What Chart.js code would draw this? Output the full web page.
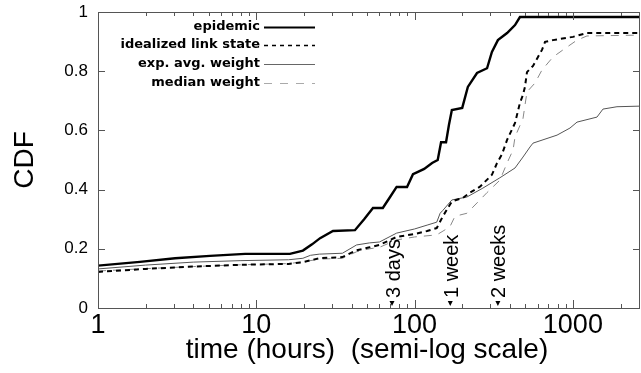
<!DOCTYPE html>
<html>
<head>
<meta charset="utf-8">
<script src="https://cdn.jsdelivr.net/npm/chart.js@4"></script>
<style>
  html, body { margin: 0; padding: 0; background: #fff; }
  #wrap { width: 641px; height: 373px; position: relative; }
</style>
</head>
<body>
<div id="wrap"><canvas id="cdfChart"></canvas></div>
<script>
// values (hours, CDF)
const epidemicHours = [1, 1.84, 3.07, 5.1, 8.5, 16.3, 19.7, 22.5, 25.3, 30.5, 42, 48, 54.6, 63, 70, 77, 89.6, 97.7, 105, 115, 129, 140, 147, 158, 165, 172, 200, 217, 248, 287, 308, 336, 384, 431, 463, 2655];
const epidemicCdf = [0.143, 0.156, 0.168, 0.176, 0.183, 0.183, 0.194, 0.215, 0.236, 0.26, 0.263, 0.3, 0.338, 0.338, 0.375, 0.409, 0.409, 0.452, 0.46, 0.47, 0.49, 0.5, 0.56, 0.56, 0.62, 0.669, 0.676, 0.747, 0.794, 0.81, 0.865, 0.905, 0.929, 0.956, 0.983, 0.983];

const idealHours = [1, 2, 4, 8, 16, 19.7, 25, 35, 43, 52, 60, 77, 100, 120, 138, 151, 172, 202, 224, 259, 308, 332, 357, 384, 431, 463, 484, 498, 513, 560, 602, 638, 667, 749, 1002, 1227, 2655];
const idealCdf = [0.122, 0.132, 0.14, 0.146, 0.149, 0.155, 0.168, 0.172, 0.195, 0.205, 0.213, 0.24, 0.25, 0.26, 0.27, 0.31, 0.36, 0.372, 0.39, 0.41, 0.45, 0.49, 0.52, 0.568, 0.625, 0.693, 0.72, 0.747, 0.797, 0.818, 0.848, 0.872, 0.899, 0.905, 0.916, 0.929, 0.929];

const expAvgHours = [1, 2, 4, 8, 16, 19.7, 22, 25, 35, 43, 52, 60, 77, 100, 120, 138, 145, 151, 172, 214, 270, 346, 431, 484, 536, 560, 794, 959, 1062, 1420, 1549, 1900, 2655];
const expAvgCdf = [0.132, 0.145, 0.155, 0.16, 0.163, 0.168, 0.178, 0.182, 0.185, 0.213, 0.22, 0.223, 0.253, 0.267, 0.28, 0.29, 0.32, 0.33, 0.365, 0.375, 0.405, 0.44, 0.473, 0.51, 0.544, 0.557, 0.584, 0.608, 0.628, 0.645, 0.672, 0.68, 0.682];

const medianHours = [1, 2, 4, 8, 16, 19.7, 25, 35, 43, 52, 60, 77, 100, 138, 167, 180, 214, 248, 287, 346, 384, 419, 431, 484, 513, 576, 638, 749, 866, 1062, 1227, 2655];
const medianCdf = [0.125, 0.133, 0.14, 0.146, 0.15, 0.156, 0.165, 0.168, 0.19, 0.2, 0.205, 0.23, 0.24, 0.247, 0.274, 0.31, 0.32, 0.355, 0.39, 0.432, 0.49, 0.534, 0.578, 0.64, 0.73, 0.76, 0.804, 0.848, 0.872, 0.905, 0.919, 0.922];

const xTickValues = [1, 10, 100, 1000];
const yTickValues = [0, 0.2, 0.4, 0.6, 0.8, 1];
const markerHours = [72, 168, 336];
const markerLabels = ["3 days", "1 week", "2 weeks"];
const seriesNames = ["epidemic", "idealized link state", "exp. avg. weight", "median weight"];

function pairs(xs, ys) {
    return xs.map((x, i) => ({ x: x, y: ys[i] }));
}

const styles = [
    { color: "#000000", width: 2.4, dash: [] },
    { color: "#000000", width: 2, dash: [5, 4] },
    { color: "#555555", width: 1, dash: [] },
    { color: "#888888", width: 1, dash: [8, 7] }
];
const legendStyles = [
    { color: "#000000", width: 2, dash: [] },
    { color: "#000000", width: 1.5, dash: [4, 4] },
    { color: "#666666", width: 1, dash: [] },
    { color: "#aaaaaa", width: 1, dash: [8, 8] }
];

const allData = [
    pairs(epidemicHours, epidemicCdf),
    pairs(idealHours, idealCdf),
    pairs(expAvgHours, expAvgCdf),
    pairs(medianHours, medianCdf)
];

const gnuplotFrame = {
    id: "gnuplotFrame",
    afterDraw(chart) {
        const ctx = chart.ctx;
        const a = chart.chartArea;
        const xs = chart.scales.x;
        const ys = chart.scales.y;
        ctx.save();
        ctx.strokeStyle = "#555555";
        ctx.lineWidth = 1;
        ctx.setLineDash([]);
        ctx.strokeRect(a.left + 0.5, a.top + 0.5, a.right - a.left - 1, a.bottom - a.top);

        // inward ticks on x (bottom and top)
        ctx.beginPath();
        for (let d = 1; d <= 1000; d *= 10) {
            for (let m = 1; m <= 9; m++) {
                const v = d * m;
                if (v > xs.max) break;
                const px = Math.round(xs.getPixelForValue(v)) + 0.5;
                const len = m === 1 ? 8 : 4;
                ctx.moveTo(px, a.bottom);
                ctx.lineTo(px, a.bottom - len);
                ctx.moveTo(px, a.top);
                ctx.lineTo(px, a.top + len);
            }
        }
        // inward ticks on y (left and right)
        yTickValues.forEach(v => {
            const py = Math.round(ys.getPixelForValue(v)) + 0.5;
            ctx.moveTo(a.left, py);
            ctx.lineTo(a.left + 7, py);
            ctx.moveTo(a.right, py);
            ctx.lineTo(a.right - 7, py);
        });
        ctx.stroke();

        // legend, text right aligned, sample line on the right
        ctx.font = "bold 13px 'DejaVu Sans'";
        ctx.textAlign = "right";
        ctx.textBaseline = "middle";
        const rows = [27, 45, 64, 83];
        seriesNames.forEach((name, i) => {
            ctx.fillStyle = "#000";
            ctx.fillText(name, 260, rows[i]);
            const st = legendStyles[i];
            ctx.strokeStyle = st.color;
            ctx.lineWidth = st.width;
            ctx.setLineDash(st.dash);
            ctx.beginPath();
            ctx.moveTo(264, rows[i] + 0.5);
            ctx.lineTo(315, rows[i] + 0.5);
            ctx.stroke();
        });
        ctx.setLineDash([]);

        // day / week markers
        ctx.fillStyle = "#000";
        ctx.font = "20px 'Liberation Sans'";
        markerHours.forEach((h, i) => {
            const px = xs.getPixelForValue(h);
            ctx.beginPath();
            ctx.moveTo(px - 2.5, a.bottom - 7);
            ctx.lineTo(px + 2.5, a.bottom - 7);
            ctx.lineTo(px, a.bottom - 2);
            ctx.closePath();
            ctx.fill();
            ctx.save();
            ctx.translate(px + 2, a.bottom - 10);
            ctx.rotate(-Math.PI / 2);
            ctx.textAlign = "left";
            ctx.textBaseline = "middle";
            ctx.fillText(markerLabels[i], 0, 0);
            ctx.restore();
        });

        // axis titles
        ctx.font = "28px 'Liberation Sans'";
        ctx.textAlign = "center";
        ctx.textBaseline = "alphabetic";
        ctx.fillText("time (hours)  (semi-log scale)", (a.left + a.right) / 2 - 2, 358);
        ctx.save();
        ctx.translate(33, 160);
        ctx.rotate(-Math.PI / 2);
        ctx.fillText("CDF", 0, 0);
        ctx.restore();
        ctx.restore();
    }
};

new Chart(document.getElementById("cdfChart"), {
    type: "line",
    data: {
        datasets: allData.map((d, i) => ({
            label: seriesNames[i],
            data: d,
            borderColor: styles[i].color,
            borderWidth: styles[i].width,
            borderDash: styles[i].dash,
            pointRadius: 0,
            tension: 0,
            fill: false
        }))
    },
    options: {
        responsive: true,
        maintainAspectRatio: false,
        animation: false,
        layout: { padding: { top: 12, right: 1, left: 0, bottom: 0 } },
        plugins: {
            legend: { display: false },
            tooltip: { enabled: false }
        },
        scales: {
            x: {
                type: "logarithmic",
                min: 1,
                max: 2655,
                afterBuildTicks: function (scale) {
                    scale.ticks = xTickValues.map(v => ({ value: v }));
                },
                afterFit: function (scale) {
                    scale.height = 65;
                    scale.paddingLeft = 0;
                    scale.paddingRight = 0;
                },
                grid: { display: false, drawTicks: false },
                border: { display: false },
                ticks: {
                    color: "#000",
                    padding: 1,
                    maxRotation: 0,
                    autoSkip: false,
                    font: { family: "'Liberation Sans'", size: 27 },
                    callback: function (value) { return String(value); }
                }
            },
            y: {
                min: 0,
                max: 1,
                afterBuildTicks: function (scale) {
                    scale.ticks = yTickValues.map(v => ({ value: v }));
                },
                afterFit: function (scale) {
                    scale.width = 98;
                    scale.paddingTop = 0;
                    scale.paddingBottom = 0;
                },
                grid: { display: false, drawTicks: false },
                border: { display: false },
                ticks: {
                    color: "#000",
                    padding: 10,
                    font: { family: "'Liberation Sans'", size: 17 },
                    callback: function (value) { return String(Math.round(value * 10) / 10); }
                }
            }
        }
    },
    plugins: [gnuplotFrame]
});
</script>
</body>
</html>
